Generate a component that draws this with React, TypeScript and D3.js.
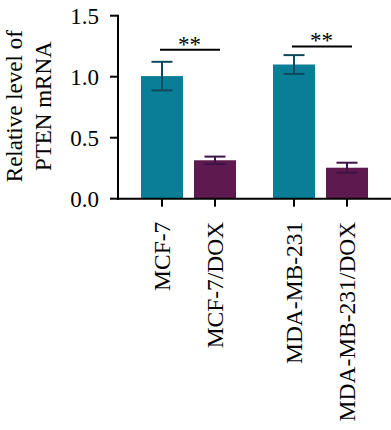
import React from "react"
import * as d3 from "d3"

const groups = ["MCF-7", "MDA-MB-231"]
const conditions = ["ctrl", "dox"]
const labels = [
  ["MCF-7", "MCF-7/DOX"],
  ["MDA-MB-231", "MDA-MB-231/DOX"],
]
const means = [
  [1.005, 0.315],
  [1.1, 0.254],
]
const errors = [
  [0.117, 0.03],
  [0.077, 0.041],
]
const sigLevel = [1.22, 1.248]
const sigText = ["**", "**"]
const yTicks = [0, 0.5, 1.0, 1.5]

const barColors = ["#0a7e96", "#5e1a4f"]
const errColors = ["#0e4a5c", "#3d1348"]

const W = 391
const H = 430
const FONT = "'Liberation Serif', 'Times New Roman', serif"
const FS = 23

export default function App() {
  const margin = { top: 15.7, left: 118, right: 0 }
  const y0 = 198.7

  const y = d3.scaleLinear().domain([0, 1.5]).range([y0, margin.top])
  const xGroup = d3
    .scaleBand<string>()
    .domain(groups)
    .range([margin.left, W - margin.right])
    .paddingInner(0)
    .paddingOuter(0.034)
  const xSub = d3
    .scaleBand<string>()
    .domain(conditions)
    .range([0, xGroup.bandwidth()])
    .paddingInner(0.2075)
    .paddingOuter(0.349)

  const bw = xSub.bandwidth()
  const capW = 21

  return (
    <svg width={W} height={H} style={{ position: "absolute", left: 0, top: 0 }} fontFamily={FONT}>
      <rect width={W} height={H} fill="#fff" />
      {/* bars + error bars */}
      {groups.map((g, gi) =>
        conditions.map((c, ci) => {
          const x = (xGroup(g) ?? 0) + (xSub(c) ?? 0)
          const cx = x + bw / 2
          const m = means[gi][ci]
          const e = errors[gi][ci]
          return (
            <g key={g + c}>
              <rect x={x} y={y(m)} width={bw} height={y0 - y(m)} fill={barColors[ci]} />
              <line x1={cx} x2={cx} y1={y(m + e)} y2={y(m - e)} stroke={errColors[ci]} strokeWidth={2} />
              <line x1={cx - capW / 2} x2={cx + capW / 2} y1={y(m + e)} y2={y(m + e)} stroke={errColors[ci]} strokeWidth={2} />
              <line x1={cx - capW / 2} x2={cx + capW / 2} y1={y(m - e)} y2={y(m - e)} stroke={errColors[ci]} strokeWidth={2} />
            </g>
          )
        }),
      )}

      {/* significance brackets */}
      {groups.map((g, gi) => {
        const c1 = (xGroup(g) ?? 0) + (xSub(conditions[0]) ?? 0) + bw / 2
        const c2 = (xGroup(g) ?? 0) + (xSub(conditions[1]) ?? 0) + bw / 2
        const ly = y(sigLevel[gi])
        return (
          <g key={"sig" + g}>
            <line x1={c1 - 2} x2={c2 + 5} y1={ly} y2={ly} stroke="#000" strokeWidth={2} />
            <text x={(c1 + c2) / 2 + 1} y={ly + 2} textAnchor="middle" fontSize={FS} fill="#000">
              {sigText[gi]}
            </text>
          </g>
        )
      })}

      {/* y axis */}
      <line x1={margin.left} x2={margin.left} y1={y(1.5) - 1} y2={y0 + 1} stroke="#000" strokeWidth={2} />
      {yTicks.map((t) => (
        <g key={t} transform={`translate(${margin.left},${y(t)})`}>
          <line x1={-8} x2={0} stroke="#000" strokeWidth={2} />
          <text x={-19} dy="0.35em" textAnchor="end" fontSize={FS} fill="#000">
            {d3.format(".1f")(t)}
          </text>
        </g>
      ))}
      <text
        transform={`translate(14,${(y(1.5) + y0) / 2 - 1}) rotate(-90)`}
        textAnchor="middle"
        dy="0.35em"
        fontSize={FS}
        fill="#000"
      >
        Relative level of
      </text>
      <text
        transform={`translate(43,${(y(1.5) + y0) / 2 - 1}) rotate(-90)`}
        textAnchor="middle"
        dy="0.35em"
        fontSize={FS}
        fill="#000"
      >
        PTEN mRNA
      </text>

      {/* x axis */}
      <line x1={margin.left - 1} x2={W} y1={y0} y2={y0} stroke="#000" strokeWidth={2} />
      {groups.map((g, gi) =>
        conditions.map((c, ci) => {
          const cx = (xGroup(g) ?? 0) + (xSub(c) ?? 0) + bw / 2
          return (
            <g key={"xt" + g + c} transform={`translate(${cx},${y0})`}>
              <line y1={0} y2={8} stroke="#000" strokeWidth={2} />
              <text
                transform={`translate(0,23) rotate(-90)`}
                textAnchor="end"
                dy="0.35em"
                fontSize={23.5}
                fill="#000"
              >
                {labels[gi][ci]}
              </text>
            </g>
          )
        }),
      )}
    </svg>
  )
}
